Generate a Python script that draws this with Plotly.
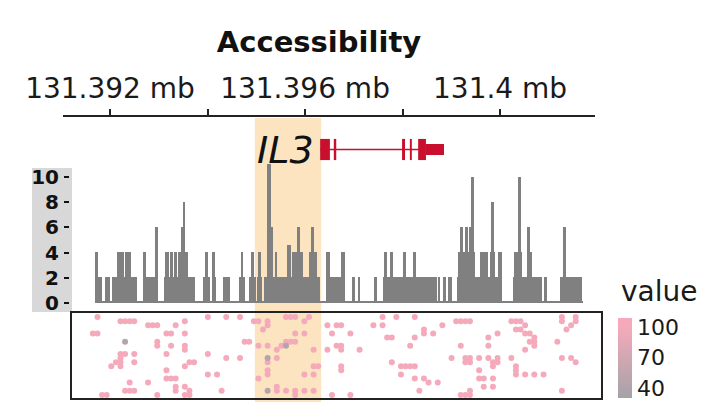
import plotly.graph_objects as go

# ---------------- data ----------------
ruler_ticks = [131392000, 131394000, 131396000, 131398000, 131400000]
ruler_labels = ["131.392 mb", "", "131.396 mb", "", "131.4 mb"]
ruler_range = [131391036, 131401947]

# accessibility coverage segments (bp start, bp end, value)
seg_start = [131391690, 131391710, 131391900, 131392040, 131392120, 131392140, 131392310,
             131392680, 131392680, 131392920, 131393110, 131393130, 131393230, 131393310,
             131393390, 131393460, 131393500, 131393600, 131393910, 131393950, 131394090,
             131394090, 131394320, 131394650, 131394690, 131394850, 131394890, 131395020,
             131395040, 131395160, 131395220, 131395280, 131395340, 131395380, 131395550,
             131395630, 131395730, 131395840, 131396080, 131396140, 131396430, 131396430,
             131396660, 131396740, 131396960, 131397090, 131397410, 131397600, 131397620,
             131397740, 131398010, 131398210, 131398730, 131398830, 131398930, 131399120,
             131399140, 131399180, 131399280, 131399340, 131399360, 131399400, 131399550,
             131399590, 131399790, 131399810, 131399960, 131400270, 131400290, 131400370,
             131400550, 131400550, 131400660, 131400900, 131401230, 131401290]
seg_end = [131391840, 131391750, 131392000, 131392120, 131392550, 131392290, 131392430,
           131392980, 131392740, 131392980, 131393600, 131393210, 131393290, 131393370,
           131393600, 131393520, 131393540, 131393740, 131394050, 131394010, 131394170,
           131394150, 131394460, 131394770, 131394730, 131395000, 131394950, 131395120,
           131395100, 131395340, 131395300, 131395340, 131395550, 131395430, 131396310,
           131395710, 131395960, 131395900, 131396250, 131396180, 131396660, 131396510,
           131396820, 131396820, 131397020, 131397130, 131397480, 131398710, 131397680,
           131397800, 131398070, 131398280, 131398770, 131398890, 131399010, 131399550,
           131399340, 131399240, 131399340, 131399490, 131399470, 131399470, 131400040,
           131399750, 131399900, 131399880, 131400040, 131400660, 131400450, 131400430,
           131400660, 131400610, 131400860, 131400960, 131401680, 131401350]
seg_value = [2, 4, 2, 2, 2, 4, 4,
             2, 4, 6, 2, 4, 4, 4,
             4, 6, 8, 2, 2, 4, 2,
             4, 2, 2, 4, 2, 4, 2,
             4, 2, 11, 6, 2, 4, 2,
             4.6, 4, 6, 4, 6, 2, 4,
             2, 4, 2, 2, 2, 2, 4,
             4, 4, 4, 2, 2, 2, 2,
             4, 6, 6, 4, 6, 10, 2,
             4, 4, 8, 4, 2, 4, 10,
             4, 6, 2, 2, 2, 6]
baseline_start, baseline_end, baseline_value = 131391690, 131401700, 0.15
track_ticks = [0, 2, 4, 6, 8, 10]

# IL3 gene model
gene_name = "IL3"
gene_start, gene_end = 131396310, 131398850
exon_start = [131396310, 131396590, 131397990, 131398150, 131398320, 131398480]
exon_end = [131396510, 131396640, 131398050, 131398190, 131398480, 131398850]
exon_kind = ["cds", "cds", "cds", "cds", "cds", "utr"]
highlight_region = [131394970, 131396330]

# single-cell accessibility heatmap: pink cells (value 100) per row, plus grey cells
pink_value = 100
pink_cols_by_row = [
    [5, 29, 33, 36, 46, 47, 48, 51, 67, 70, 74, 106, 109],
    [10, 11, 12, 13, 24, 39, 40, 42, 50, 83, 84, 85, 86, 95, 96, 97, 106, 109],
    [16, 17, 18, 22, 42, 55, 57, 58, 65, 67, 80, 98, 108],
    [41, 76, 96, 97, 107],
    [4, 5, 20, 21, 24, 48, 50, 56, 60, 76, 78, 92, 98, 99],
    [68, 69, 74, 90, 100],
    [18, 37, 38, 46, 47, 48, 99, 100, 105],
    [18, 21, 24, 40, 42, 45, 57, 58, 73, 84, 90, 100],
    [24, 44, 52, 55, 58, 62, 98],
    [10, 11, 13, 20, 29],
    [10, 33, 36, 44, 82, 85, 86, 88, 90, 92, 95, 106, 108],
    [9, 10, 13, 25, 26, 42, 69, 85, 86, 91, 92, 109],
    [8, 10, 24, 52, 53, 58, 71, 72, 73, 74, 91, 96],
    [20, 42, 58, 88, 96],
    [29, 31, 42, 50, 52, 71, 96, 98, 100, 102],
    [20, 21, 22, 40, 74, 76, 88, 89, 91],
    [12, 16, 77, 79],
    [22, 24, 44, 89, 91],
    [11, 12, 13, 22, 25, 32, 44, 46, 48, 50, 52, 75, 86, 106],
    [6, 7, 18, 24, 25, 48, 56, 60, 84, 85, 86],
]
grey_col = [11, 46, 42, 42]
grey_row = [6, 7, 10, 18]
grey_value = 45
n_cols, n_rows = 115, 20
cbar_ticks = [40, 70, 100]
cbar_title = "value"

# ---------------- figure ----------------
W, H = 712, 402
def px_x(p):
    return p / W
def px_y(p):
    return 1 - p / H

FONT = "DejaVu Sans"
BAR_GREY = "#808080"
GENE_RED = "#C8102E"
HL = "#FCE4C1"

fig = go.Figure()

# coverage track (sorted so taller segments are painted on top)
order = sorted(range(len(seg_value)), key=lambda i: seg_value[i])
xs = [baseline_start / 2 + baseline_end / 2] + [(seg_start[i] + seg_end[i]) / 2 for i in order]
ws = [baseline_end - baseline_start] + [seg_end[i] - seg_start[i] for i in order]
ys = [baseline_value] + [seg_value[i] for i in order]
fig.add_trace(go.Bar(x=xs, y=ys, width=ws, xaxis="x", yaxis="y2",
                     marker=dict(color=BAR_GREY, line=dict(width=0)),
                     showlegend=False, hoverinfo="skip"))

# heatmap dots
hx, hy, hv = [], [], []
for r, cols in enumerate(pink_cols_by_row):
    for c in cols:
        hx.append(c); hy.append(r); hv.append(pink_value)
for c, r in zip(grey_col, grey_row):
    hx.append(c); hy.append(r); hv.append(grey_value)

cmin, cmax = 30.2, 108.9
p100 = (100 - cmin) / (cmax - cmin)
fig.add_trace(go.Scatter(
    x=hx, y=hy, mode="markers", xaxis="x2", yaxis="y4",
    marker=dict(size=6, color=hv, cmin=cmin, cmax=cmax, symbol="circle",
                colorscale=[[0, "#A3A3A7"], [p100, "#F5AABB"], [1, "#F5AABB"]],
                line=dict(width=0),
                colorbar=dict(
                    x=px_x(618), xanchor="left", xpad=0, ypad=0,
                    y=px_y(358), yanchor="middle", lenmode="pixels", len=80,
                    thickness=14, thicknessmode="pixels", outlinewidth=0,
                    tickvals=cbar_ticks, ticktext=[str(t) for t in cbar_ticks],
                    ticklabeloverflow="allow",
                    ticks="", tickfont=dict(family=FONT, size=22, color="#1a1a1a"))),
    showlegend=False, hoverinfo="skip"))

# gene model: intron line + exons (in genomic coordinates)
fig.add_trace(go.Scatter(x=[gene_start, gene_end], y=[0, 0], mode="lines",
                         xaxis="x", yaxis="y3", line=dict(color=GENE_RED, width=1.5),
                         showlegend=False, hoverinfo="skip"))
shapes = []
for s, e, k in zip(exon_start, exon_end, exon_kind):
    h = 0.92 if k == "cds" else 0.48
    shapes.append(dict(type="rect", xref="x", yref="y3", x0=s, x1=e, y0=-h, y1=h,
                       fillcolor=GENE_RED, line=dict(width=0), layer="above"))

# highlight region and grey label box
shapes.append(dict(type="rect", xref="x", yref="paper", x0=highlight_region[0],
                   x1=highlight_region[1], y0=0, y1=px_y(118), fillcolor=HL,
                   line=dict(width=0), layer="below"))
shapes.append(dict(type="rect", xref="paper", yref="paper", x0=px_x(32), x1=px_x(72),
                   y0=px_y(312), y1=px_y(168), fillcolor="#D8D8D8",
                   line=dict(width=0), layer="below"))

fig.update_layout(
    width=W, height=H, margin=dict(l=0, r=0, t=0, b=0, autoexpand=False),
    paper_bgcolor="white", plot_bgcolor="rgba(0,0,0,0)",
    barmode="overlay", bargap=0,
    shapes=shapes,
    title=dict(text="Accessibility", x=px_x(319), y=px_y(42), xanchor="center",
               yanchor="middle", xref="paper", yref="paper",
               font=dict(family=FONT, size=29, color="#111111", weight="bold")),
    annotations=[
        dict(text=gene_name, xref="x", yref="y3", x=gene_start, y=0, xshift=-4,
             showarrow=False, xanchor="right", yanchor="middle",
             font=dict(family=FONT, size=38, color="#111111", style="italic")),
        dict(text=cbar_title, xref="paper", yref="paper", x=px_x(619), y=px_y(291),
             showarrow=False, xanchor="left", yanchor="middle",
             font=dict(family=FONT, size=28, color="#1a1a1a")),
    ],
    xaxis=dict(domain=[px_x(63), px_x(595)], range=ruler_range, anchor="free",
               position=px_y(116),
               side="top", showline=True, linewidth=2, linecolor="#222222",
               ticks="outside", ticklen=6, tickwidth=2, tickcolor="#222222",
               tickvals=ruler_ticks, ticktext=ruler_labels, showgrid=False,
               zeroline=False, ticklabelstandoff=0, automargin=False,
               tickfont=dict(family=FONT, size=28, color="#1a1a1a")),
    yaxis2=dict(domain=[px_y(303), px_y(303 - 11.4 * 12.6)], range=[0, 11.4],
                anchor="free", position=px_x(69), side="left", automargin=False,
                tickvals=track_ticks, ticks="outside", ticklen=5, tickwidth=2,
                tickcolor="#111111", showgrid=False, zeroline=False, showline=False,
                ticklabelstandoff=1,
                tickfont=dict(family=FONT, size=20, color="#111111", weight="bold")),
    yaxis3=dict(domain=[px_y(161), px_y(138)], range=[-1, 1], anchor="x",
                visible=False, automargin=False),
    xaxis2=dict(domain=[px_x(72), px_x(601)], range=[-0.54, n_cols - 0.5],
                anchor="y4", showline=True, mirror=True, linewidth=2,
                linecolor="#222222", ticks="", showticklabels=False,
                showgrid=False, zeroline=False, automargin=False),
    yaxis4=dict(domain=[px_y(398), px_y(313)], range=[n_rows - 0.24, -1],
                anchor="x2", showline=True, mirror=True, linewidth=2,
                linecolor="#222222", ticks="", showticklabels=False,
                showgrid=False, zeroline=False, automargin=False),
)

fig.write_html("out.html")
